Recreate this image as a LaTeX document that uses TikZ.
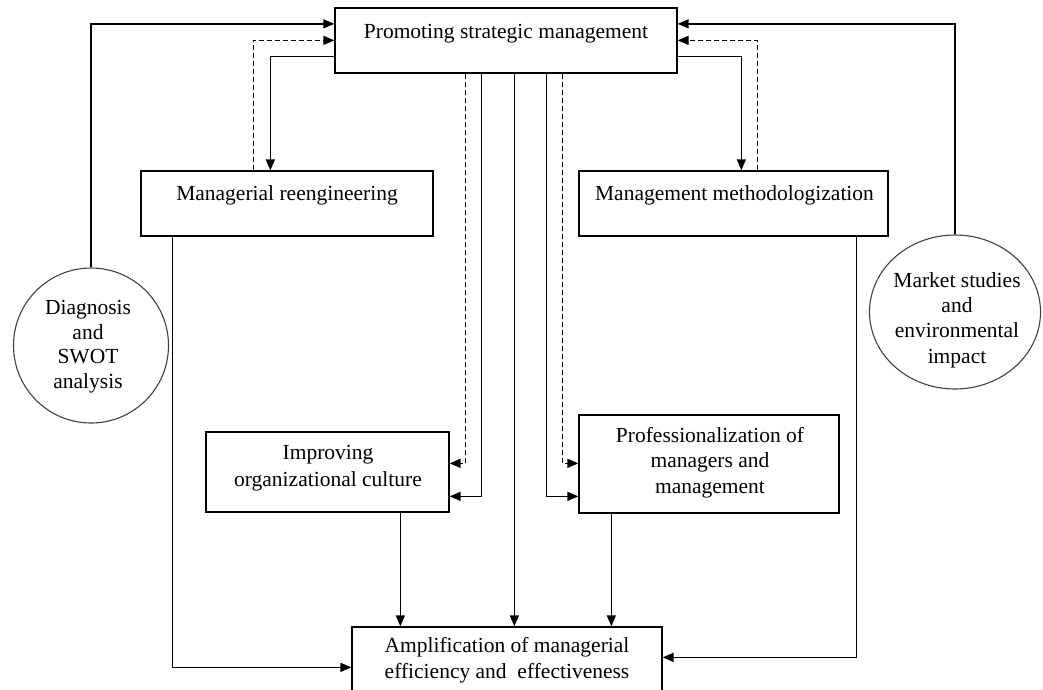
\documentclass[tikz,border=0pt]{standalone}
\usepackage{fontspec}
\setmainfont{Liberation Serif}
\usetikzlibrary{arrows.meta,shapes.geometric}
\begin{document}
\begin{tikzpicture}[x=1pt,y=-1pt,
  box/.style={draw,line width=1.3pt,rectangle,inner sep=0pt},
  circ/.style={draw=black!75,line width=1.1pt,ellipse,inner sep=0pt},
  txt/.style={align=center,inner sep=0pt,anchor=base,font=\fontsize{21.5}{25.5}\selectfont},
  conn/.style={line width=1.4pt},
  arr/.style={conn,-{Triangle[length=11pt,width=9pt]}},
  dsh/.style={dash pattern=on 5pt off 3pt}]
\useasboundingbox (0,0) rectangle (1043,689);
% boxes
\node[box,minimum width=342pt,minimum height=65pt] (top) at (506,40.5) {};
\node[box,minimum width=292pt,minimum height=65pt] (mr) at (287,203.5) {};
\node[box,minimum width=309pt,minimum height=65pt] (mm) at (733.5,203.5) {};
\node[box,minimum width=243pt,minimum height=80pt] (ioc) at (327.5,472) {};
\node[box,minimum width=260pt,minimum height=98pt] (pro) at (709,464) {};
\node[box,minimum width=310pt,minimum height=73pt] (amp) at (507,663.5) {};
\node[circ,minimum width=155pt,minimum height=155pt] (lc) at (91,345.5) {};
\node[circ,minimum width=171pt,minimum height=154pt] (rc) at (955,312) {};
% texts (anchor base = last line baseline)
\node[txt] (ttop) at (506,38) {Promoting strategic management};
\node[txt] (tmr) at (287,200) {Managerial reengineering};
\node[txt] (tmm) at (734.5,200) {Management methodologization};
\node[txt,font=\fontsize{21.5}{27}\selectfont] (tioc) at (328,486) {Improving\\organizational culture};
\node[txt] (tpro) at (710,493) {Professionalization of\\managers and\\management};
\node[txt] (tamp) at (507,678) {Amplification of managerial\\efficiency and\ \ effectiveness};
\node[txt,font=\fontsize{21.5}{24.5}\selectfont] (tlc) at (88,388) {Diagnosis\\and\\SWOT\\analysis};
\node[txt,font=\fontsize{21.5}{25.3}\selectfont] (trc) at (957,363) {Market studies\\and\\environmental\\impact};
% connectors
\draw[arr] (lc.north) |- ([yshift=-16.5pt]top.north west);
\draw[arr,dsh] ([xshift=113pt]mr.north west) |- ([yshift=-33pt]top.north west);
\draw[arr] ([yshift=-49pt]top.north west) -| ([xshift=130pt]mr.north west);
\draw[arr] (rc.north) |- ([yshift=-16.5pt]top.north east);
\draw[arr,dsh] ([xshift=179pt]mm.north west) |- ([yshift=-33pt]top.north east);
\draw[arr] ([yshift=-49pt]top.north east) -| ([xshift=163pt]mm.north west);
\draw[arr,dsh] ([xshift=131pt]top.south west) |- ([yshift=-32pt]ioc.north east);
\draw[arr] ([xshift=147pt]top.south west) |- ([yshift=-65pt]ioc.north east);
\draw[arr] ([xshift=180pt]top.south west) -- ([xshift=163pt]amp.north west);
\draw[arr] ([xshift=212pt]top.south west) |- ([yshift=-82pt]pro.north west);
\draw[arr,dsh] ([xshift=228pt]top.south west) |- ([yshift=-49pt]pro.north west);
\draw[arr] ([xshift=195pt]ioc.south west) -- ([xshift=49pt]amp.north west);
\draw[arr] ([xshift=33pt]pro.south west) -- ([xshift=260pt]amp.north west);
\draw[arr] ([xshift=32pt]mr.south west) |- ([yshift=-41pt]amp.north west);
\draw[arr] ([xshift=-32pt]mm.south east) |- ([yshift=-31pt]amp.north east);
\end{tikzpicture}
\end{document}
